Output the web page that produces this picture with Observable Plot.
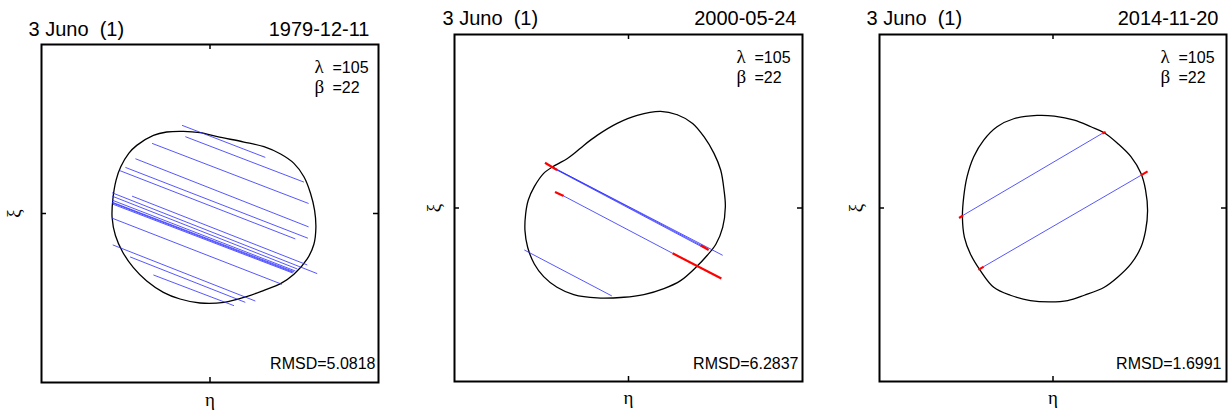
<!DOCTYPE html>
<html><head><meta charset="utf-8">
<script src="https://cdn.jsdelivr.net/npm/d3@7"></script>
<script src="https://cdn.jsdelivr.net/npm/@observablehq/plot@0.6"></script>
<style>
body{margin:0;background:#fff;}
#wrap{position:relative;width:1231px;height:412px;overflow:hidden;background:#fff;}
#wrap > svg{position:absolute;top:0;}
svg text{white-space:pre;}
</style></head><body><div id="wrap"></div>
<script>
// ---- data (units: km on the sky plane, η right, ξ up) ----
const objectName = "3 Juno  (1)";
const dates = ["1979-12-11", "2000-05-24", "2014-11-20"];
const lambdas = [105, 105, 105];
const betas = [22, 22, 22];
const rmsds = ["5.0818", "6.2837", "1.6991"];

const outline1 = [[-40,123],[-15,121],[11,115],[51,107],[81,100],[106,89],[126,75],[141,55],[151,30],[157,5],[159,-21],[156,-46],[146,-68],[126,-91],[106,-105],[81,-115],[56,-124],[21,-133],[-15,-134],[-45,-128],[-70,-118],[-95,-101],[-115,-81],[-131,-58],[-142,-33],[-147,-6],[-146,20],[-141,50],[-134,70],[-122,90],[-110,102],[-85,117],[-65,122]];
const chordsBlue1 = [[-42,132,83,84],[-37,115,141,47],[-87,105,148,15],[-112,82,148,-20],[-127,69,147,-37],[-135,64,128,-38],[-147,31,161,-90],[-117,26,146,-77],[-147,26,131,-83],[-147,20,128,-86],[-147,16,125,-88],[-147,17,126,-87],[-146,14,124,-89],[-147,-7,108,-106],[-146,-47,68,-131],[-120,-65,53,-133],[-85,-92,36,-138]];
const chordsRed1 = [];

const outline2 = [[48,145],[73,140],[96,127],[113,107],[128,82],[138,57],[143,27],[145,2],[141,-29],[131,-54],[118,-71],[101,-89],[78,-109],[53,-121],[23,-130],[-7,-134],[-47,-135],[-82,-130],[-107,-119],[-127,-103],[-141,-84],[-151,-59],[-155,-34],[-154,-9],[-150,12],[-141,32],[-127,52],[-110,64],[-92,74],[-80,83],[-67,94],[-47,109],[-17,127],[13,139]];
const chordsBlue2 = [[-117,63,141,-71],[-115,62,118,-61],[-111,59,113,-60],[-97,18,66,-68],[-156,-63,-25,-132]];
const chordsRed2 = [[-125,68,-107,57],[108,-56,120,-63],[-110,24,-97,18],[66,-68,139,-106]];

const outline3 = [[-24,139],[2,138],[32,132],[57,122],[77,113],[97,97],[117,77],[132,52],[139,27],[142,-4],[139,-34],[132,-59],[117,-84],[97,-104],[77,-119],[47,-131],[22,-139],[-4,-141],[-34,-139],[-64,-131],[-89,-119],[-109,-94],[-124,-69],[-133,-44],[-136,-14],[-134,17],[-129,47],[-119,77],[-104,102],[-84,122],[-59,134]];
const chordsBlue3 = [[-135,-11,74,112],[-104,-88,132,49]];
const chordsRed3 = [[-141,-15,-135,-11],[74,112,79,114],[-112,-93,-104,-88],[132,49,142,55]];

const halfRange = [253, 260.5, 260.5];

// ---- layout (pixels) ----
const layout = [
  {left:0,   width:410, height:412, ml:41, mr:32, mt:44, mb:30, titleDx:-13, titleDy:-9,  dateDx:-9, lamDx:-64, rmsdDx:-3, rmsdDy:-14, xiDx:-28, etaDy:17},
  {left:410, width:410, height:412, ml:44, mr:18, mt:34, mb:31, titleDx:-12, titleDy:-10, dateDx:-6, lamDx:-66, rmsdDx:-4, rmsdDy:-13, xiDx:-21, etaDy:16},
  {left:820, width:411, height:412, ml:59, mr:5,  mt:34, mb:31, titleDx:-13, titleDy:-10, dateDx:-8, lamDx:-66, rmsdDx:-5, rmsdDy:-13, xiDx:-24, etaDy:16}
];

const font = "'Liberation Sans', Arial, Helvetica, sans-serif";
const greek = "'Liberation Serif', 'DejaVu Serif', serif";

function panel(i, outline, blue, red) {
  const L = layout[i];
  const fw = L.width - L.ml - L.mr, fh = L.height - L.mt - L.mb;
  const ring = outline.map(([x, y]) => ({x, y}));
  const seg = a => a.map(([x1, y1, x2, y2]) => ({x1, y1, x2, y2}));
  const h = halfRange[i];
  const txt = (s, o) => Plot.text([s], {text: d => d, fill: "black", ...o});
  return Plot.plot({
    width: L.width, height: L.height,
    marginLeft: L.ml, marginRight: L.mr, marginTop: L.mt, marginBottom: L.mb,
    x: {domain: [-h, h], axis: null},
    y: {domain: [-h, h], axis: null},
    style: {fontFamily: font, background: "white", overflow: "visible"},
    marks: [
      Plot.line(ring, {x: "x", y: "y", curve: "catmull-rom-closed", stroke: "black", strokeWidth: 1.3}),
      Plot.link(seg(blue), {x1: "x1", y1: "y1", x2: "x2", y2: "y2", stroke: "#2b2bff", strokeWidth: 0.8}),
      Plot.link(seg(red), {x1: "x1", y1: "y1", x2: "x2", y2: "y2", stroke: "#ff0000", strokeWidth: 2.2}),
      Plot.tickX([0], {x: d => d, insetTop: fh - 5, stroke: "black", strokeWidth: 1.5}),
      Plot.tickX([0], {x: d => d, insetBottom: fh - 5, stroke: "black", strokeWidth: 1.5}),
      Plot.tickY([0], {y: d => d, insetRight: fw - 5, stroke: "black", strokeWidth: 1.5}),
      Plot.tickY([0], {y: d => d, insetLeft: fw - 5, stroke: "black", strokeWidth: 1.5}),
      Plot.frame({stroke: "black", strokeWidth: 2}),
      txt(objectName, {frameAnchor: "top-left", textAnchor: "start", lineAnchor: "bottom", dx: L.titleDx, dy: L.titleDy, fontSize: 20}),
      txt(dates[i], {frameAnchor: "top-right", textAnchor: "end", lineAnchor: "bottom", dx: L.dateDx, dy: L.titleDy, fontSize: 20}),
      txt("λ", {frameAnchor: "top-right", textAnchor: "start", lineAnchor: "bottom", dx: L.lamDx, dy: 28, fontSize: 19, fontFamily: greek}),
      txt(`=${lambdas[i]}`, {frameAnchor: "top-right", textAnchor: "start", lineAnchor: "bottom", dx: L.lamDx + 18, dy: 28, fontSize: 16}),
      txt("β", {frameAnchor: "top-right", textAnchor: "start", lineAnchor: "bottom", dx: L.lamDx, dy: 48, fontSize: 19, fontFamily: greek}),
      txt(`=${betas[i]}`, {frameAnchor: "top-right", textAnchor: "start", lineAnchor: "bottom", dx: L.lamDx + 18, dy: 48, fontSize: 16}),
      txt(`RMSD=${rmsds[i]}`, {frameAnchor: "bottom-right", textAnchor: "end", lineAnchor: "bottom", dx: L.rmsdDx, dy: L.rmsdDy, fontSize: 16}),
      txt("ξ", {frameAnchor: "left", textAnchor: "middle", lineAnchor: "middle", dx: L.xiDx, rotate: -90, fontSize: 19, fontFamily: greek}),
      txt("η", {frameAnchor: "bottom", textAnchor: "middle", lineAnchor: "middle", dy: L.etaDy, fontSize: 19, fontFamily: greek})
    ]
  });
}

const wrap = document.getElementById("wrap");
const panels = [
  panel(0, outline1, chordsBlue1, chordsRed1),
  panel(1, outline2, chordsBlue2, chordsRed2),
  panel(2, outline3, chordsBlue3, chordsRed3)
];
panels.forEach((svg, i) => { svg.style.left = layout[i].left + "px"; wrap.appendChild(svg); });
</script>
</body></html>
